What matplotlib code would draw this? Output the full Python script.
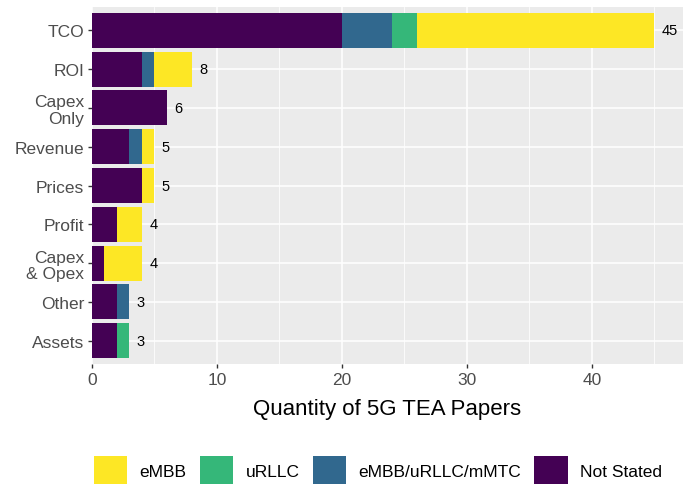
import numpy as np
import matplotlib.pyplot as plt
from matplotlib.patches import Patch

plt.rcParams['font.family'] = ['Liberation Sans', 'DejaVu Sans']

categories = ['TCO', 'ROI', 'Capex\nOnly', 'Revenue', 'Prices', 'Profit', 'Capex\n& Opex', 'Other', 'Assets']
not_stated = [20, 4, 6, 3, 4, 2, 1, 2, 2]
mmtc = [4, 1, 0, 1, 0, 0, 0, 1, 0]
urllc = [2, 0, 0, 0, 0, 0, 0, 0, 1]
embb = [19, 3, 0, 1, 1, 2, 3, 0, 0]

series = [('Not Stated', not_stated, '#440154'),
          ('eMBB/uRLLC/mMTC', mmtc, '#31688E'),
          ('uRLLC', urllc, '#35B779'),
          ('eMBB', embb, '#FDE725')]

fig = plt.figure(figsize=(6.86, 4.89), dpi=100)
ax = fig.add_axes([0.134, 0.2536, 0.8616, 0.73])
ax.set_facecolor('#EBEBEB')

y = np.arange(len(categories))[::-1]
left = np.zeros(len(categories))
for name, vals, col in series:
    vals = np.array(vals, dtype=float)
    ax.barh(y, vals, left=left, height=0.9, color=col, zorder=3)
    left += vals

for yi, tot in zip(y, left):
    ax.text(tot + 0.6, yi, str(int(tot)), va='center', ha='left', fontsize=10.5, color='black', zorder=4)

ax.set_xlim(0, 47.3)
ax.set_ylim(-0.6, len(categories) - 0.4)
ax.set_xticks([0, 10, 20, 30, 40])
ax.set_xticks([5, 15, 25, 35, 45], minor=True)
ax.set_yticks(y)
ax.set_yticklabels(categories, linespacing=1.1)
ax.grid(True, which='major', color='white', linewidth=1.1, zorder=0)
ax.grid(True, which='minor', axis='x', color='white', linewidth=0.55, zorder=0)
ax.tick_params(which='major', length=3, width=1, color='#333333', labelcolor='#4D4D4D', labelsize=12.5, pad=2.5)
ax.tick_params(which='minor', length=0)
for s in ax.spines.values():
    s.set_visible(False)
ax.set_xlabel('Quantity of 5G TEA Papers', fontsize=16, labelpad=8)

handles = [Patch(facecolor=c, edgecolor='none', label=n) for n, _, c in
           [series[3], series[2], series[1], series[0]]]
fig.legend(handles=handles, loc='center', bbox_to_anchor=(0.551, 0.036), ncol=4, frameon=False,
           fontsize=12.5, handlelength=1.95, handleheight=2.1, handletextpad=0.7, columnspacing=0.75)

fig.savefig('out.png', dpi=100)
